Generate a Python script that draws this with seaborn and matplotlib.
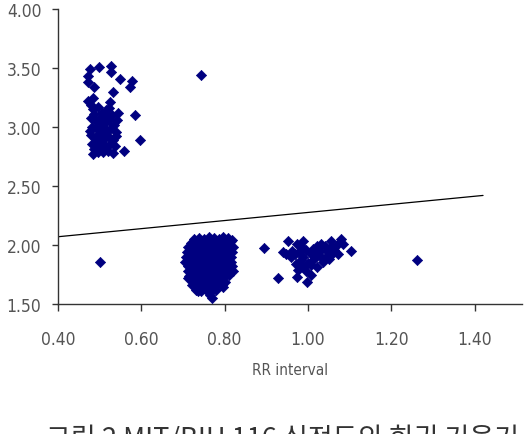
import matplotlib
matplotlib.use("Agg")
import matplotlib.pyplot as plt
from matplotlib import font_manager
import seaborn as sns
import numpy as np
import pandas as pd

# ---- data ----
# cluster around RR 0.5
clus_a_x = [0.477, 0.499, 0.527, 0.527, 0.472, 0.472, 0.549, 0.578, 0.573, 0.487,
            0.532, 0.472, 0.484, 0.525, 0.480, 0.585, 0.597, 0.559, 0.484, 0.508,
            0.485, 0.495, 0.505, 0.515, 0.530, 0.542,
            0.480, 0.490, 0.500, 0.512, 0.522, 0.535,
            0.482, 0.494, 0.506, 0.518, 0.528, 0.540,
            0.478, 0.489, 0.498, 0.510, 0.520, 0.532,
            0.481, 0.492, 0.503, 0.514, 0.525, 0.536,
            0.487, 0.497, 0.508, 0.519, 0.531,
            0.476, 0.486, 0.544, 0.523, 0.509, 0.495, 0.517, 0.502, 0.538]
clus_a_y = [3.49, 3.51, 3.52, 3.47, 3.43, 3.38, 3.41, 3.39, 3.34, 3.34,
            3.30, 3.22, 3.25, 3.21, 3.19, 3.10, 2.89, 2.80, 2.77, 2.79,
            3.15, 3.17, 3.12, 3.14, 3.10, 3.06,
            3.08, 3.05, 3.08, 3.03, 3.06, 3.02,
            3.00, 2.98, 3.00, 2.97, 2.99, 2.96,
            2.93, 2.91, 2.94, 2.90, 2.92, 2.89,
            2.86, 2.84, 2.87, 2.83, 2.86, 2.84,
            2.81, 2.79, 2.82, 2.80, 2.78,
            2.97, 3.11, 3.12, 3.16, 2.96, 2.88, 3.09, 3.03, 2.92]

# dense cluster around RR 0.76
clus_b_x = [0.727, 0.738, 0.751, 0.762, 0.774, 0.786, 0.797, 0.809,
            0.718, 0.730, 0.742, 0.755, 0.767, 0.779, 0.790, 0.802, 0.814,
            0.712, 0.724, 0.736, 0.749, 0.760, 0.772, 0.784, 0.796, 0.808, 0.819,
            0.710, 0.721, 0.733, 0.745, 0.757, 0.769, 0.781, 0.793, 0.805, 0.817,
            0.708, 0.720, 0.731, 0.743, 0.755, 0.767, 0.779, 0.791, 0.803, 0.816,
            0.705, 0.718, 0.730, 0.742, 0.754, 0.766, 0.778, 0.790, 0.802, 0.815,
            0.711, 0.723, 0.735, 0.747, 0.759, 0.771, 0.783, 0.795, 0.807, 0.818,
            0.713, 0.725, 0.737, 0.749, 0.761, 0.773, 0.785, 0.797, 0.809, 0.820,
            0.714, 0.726, 0.738, 0.750, 0.762, 0.774, 0.786, 0.798, 0.810,
            0.718, 0.730, 0.742, 0.754, 0.766, 0.778, 0.790, 0.801,
            0.722, 0.734, 0.746, 0.758, 0.770, 0.782, 0.794,
            0.730, 0.743, 0.756, 0.768, 0.780,
            0.765, 0.770, 0.735, 0.795, 0.818, 0.713]
clus_b_y = [2.05, 2.06, 2.05, 2.07, 2.06, 2.05, 2.07, 2.06,
            2.02, 2.01, 2.03, 2.02, 2.01, 2.03, 2.02, 2.01, 2.03,
            1.98, 1.97, 1.99, 1.98, 1.97, 1.99, 1.98, 1.97, 1.99, 1.98,
            1.94, 1.93, 1.95, 1.94, 1.93, 1.95, 1.94, 1.93, 1.95, 1.94,
            1.90, 1.89, 1.91, 1.90, 1.89, 1.91, 1.90, 1.89, 1.91, 1.90,
            1.86, 1.85, 1.87, 1.86, 1.85, 1.87, 1.86, 1.85, 1.87, 1.86,
            1.82, 1.81, 1.83, 1.82, 1.81, 1.83, 1.82, 1.81, 1.83, 1.82,
            1.78, 1.77, 1.79, 1.78, 1.77, 1.79, 1.78, 1.77, 1.79, 1.78,
            1.74, 1.73, 1.75, 1.74, 1.73, 1.75, 1.74, 1.73, 1.75,
            1.70, 1.69, 1.71, 1.70, 1.69, 1.71, 1.70, 1.69,
            1.66, 1.65, 1.67, 1.66, 1.65, 1.67, 1.66,
            1.62, 1.61, 1.62, 1.61, 1.62,
            1.58, 1.55, 1.61, 1.64, 2.04, 1.72]

# cluster around RR 1.0
clus_c_x = [0.953, 0.946, 0.958, 0.974, 0.989, 0.970, 0.974, 0.998, 1.006, 1.022,
            1.054, 1.078, 1.085, 1.102, 1.071, 1.037, 1.022, 0.987, 1.046, 1.006,
            0.989, 1.030, 1.054, 0.962, 0.978, 0.995, 1.012, 1.028, 1.040, 1.062,
            1.015, 1.000, 0.982, 0.968, 1.045, 1.060, 1.032, 1.008, 0.994, 1.020,
            0.985, 1.070, 0.940, 1.050, 0.975]
clus_c_y = [2.03, 1.92, 1.90, 2.01, 2.03, 1.84, 1.73, 1.69, 1.75, 1.99,
            2.03, 2.05, 2.01, 1.95, 1.92, 1.86, 1.81, 1.81, 1.95, 1.92,
            1.90, 1.90, 1.98, 1.95, 1.94, 1.96, 1.97, 1.95, 1.99, 1.96,
            1.88, 1.85, 1.87, 1.92, 1.91, 1.93, 2.01, 1.83, 1.78, 1.93,
            1.98, 2.00, 1.94, 1.88, 1.79]

# isolated points
outlier_x = [0.744, 0.500, 0.895, 0.928, 1.262]
outlier_y = [3.44, 1.86, 1.975, 1.72, 1.87]

# trend line end points
trend_x = [0.40, 1.42]
trend_y = [2.07, 2.42]

x_ticks = [0.40, 0.60, 0.80, 1.00, 1.20, 1.40]
y_ticks = [1.50, 2.00, 2.50, 3.00, 3.50, 4.00]
x_label = "RR interval"
caption = "그림 2 MIT/BIH 116 심전도의 회귀 기울기"

# ---- build table ----
df = pd.DataFrame({
    "rr": clus_a_x + clus_b_x + clus_c_x + outlier_x,
    "val": clus_a_y + clus_b_y + clus_c_y + outlier_y,
})
line_df = pd.DataFrame({"rr": trend_x, "val": trend_y})

sns.set_style("ticks")

# pick a narrow font if one is installed
names = {f.name for f in font_manager.fontManager.ttflist}
cond = [f for f in font_manager.fontManager.ttflist
        if f.name == "DejaVu Sans" and "condensed" in str(f.stretch).lower()]
if "Liberation Sans Narrow" in names:
    fam = ["Liberation Sans Narrow", "DejaVu Sans"]
    stretch = "normal"
elif cond:
    fam = ["DejaVu Sans"]
    stretch = "condensed"
else:
    fam = ["Liberation Sans", "DejaVu Sans"]
    stretch = "normal"
plt.rcParams["font.family"] = fam
plt.rcParams["font.stretch"] = stretch

fig = plt.figure(figsize=(5.30, 4.35), dpi=100)
ax = fig.add_axes([58 / 530, 1 - 305 / 435, 464 / 530, 295 / 435])

navy = "#000080"
sns.scatterplot(data=df, x="rr", y="val", marker="D", color=navy,
                edgecolor=navy, linewidth=0.5, s=27, ax=ax, zorder=3,
                clip_on=False)
sns.lineplot(data=line_df, x="rr", y="val", color="black", linewidth=0.9,
             ax=ax, zorder=2)

ax.set_xlim(0.40, 1.5135)
ax.set_ylim(1.50, 4.00)
ax.set_xticks(x_ticks)
ax.set_yticks(y_ticks)
ax.set_xticklabels([f"{v:.2f}" for v in x_ticks])
ax.set_yticklabels([f"{v:.2f}" for v in y_ticks])

sns.despine(ax=ax)
for s in ("left", "bottom"):
    ax.spines[s].set_color("#333333")
    ax.spines[s].set_linewidth(1.0)

ax.tick_params(axis="y", direction="out", length=4, width=1.0, color="#333333",
               labelsize=12.5, labelcolor="#555555", pad=8)
ax.tick_params(axis="x", direction="out", length=5, width=1.0, color="#333333",
               labelsize=12.5, labelcolor="#555555", pad=14)

ax.set_xlabel(x_label, fontsize=11, color="#555555", labelpad=10)
ax.set_ylabel("")

fig.text(282 / 530, 1 - 447 / 435, caption, ha="center", va="baseline",
         fontsize=19.5, color="#333333", stretch="normal",
         family=["Noto Sans CJK KR", "DejaVu Sans"])

fig.savefig("out.png", dpi=100)
